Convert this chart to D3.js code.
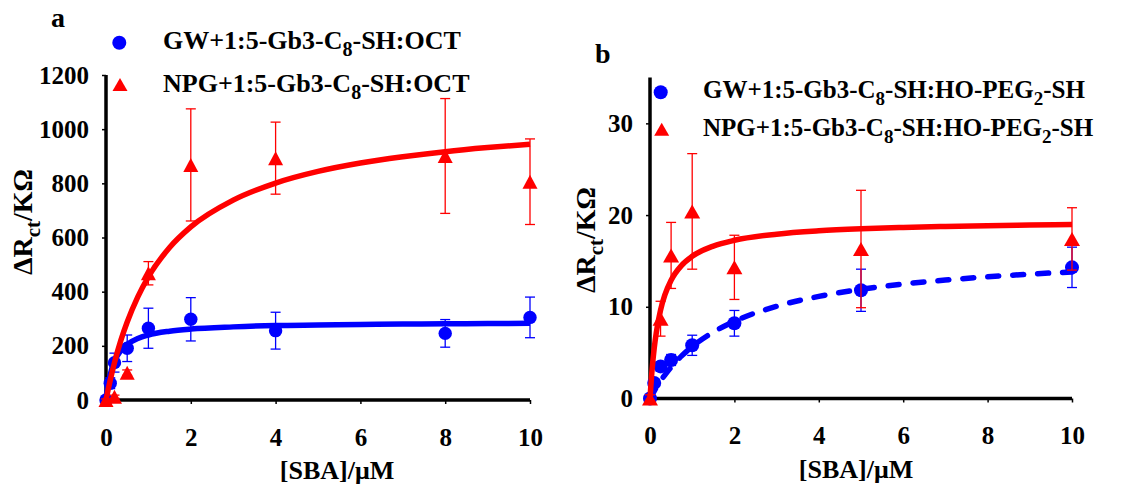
<!DOCTYPE html>
<html>
<head>
<meta charset="utf-8">
<script src="https://cdn.jsdelivr.net/npm/d3@7"></script>
<style>
  html, body { margin: 0; padding: 0; background: #fff; }
  svg text { font-family: "Liberation Serif", "Times New Roman", serif; font-weight: bold; fill: #000; }
</style>
</head>
<body>
<svg id="chart" width="1121" height="484"></svg>
<script>
// ---------- Panel a: OCT diluent ----------
const xTicks = [0, 2, 4, 6, 8, 10];
const yTicksA = [0, 200, 400, 600, 800, 1000, 1200];
const concGwA = [0, 0.1, 0.2, 0.5, 1, 2, 4, 8, 10];
const gwA = [0, 62, 138, 191, 265, 298, 256, 246, 305];
const gwAErr = [6, 20, 35, 49, 74, 80, 68, 51, 75];
const concNpgA = [0, 0.2, 0.5, 1, 2, 4, 8, 10];
const npgA = [0, 12, 101, 468, 868, 893, 901, 806];
const npgAErr = [4, 6, 10, 43, 207, 133, 212, 158];
// fitted binding curves (panel a)
const fitConcA = [0, 0.05, 0.1, 0.2, 0.35, 0.5, 0.75, 1, 1.5, 2, 3, 4, 5, 6, 7, 8, 9, 10];
const gwAFit = [0, 57, 95, 143, 183, 205, 227, 240, 254, 262, 270, 275, 277, 279, 280.5, 281.5, 282.3, 283];
const npgAFit = [0, 38, 73.5, 138, 220, 288, 381, 455, 563, 639, 738, 801, 844, 875, 898, 917, 932, 944.5];

// ---------- Panel b: HO-PEG2-SH diluent ----------
const yTicksB = [0, 10, 20, 30];
const concGwB = [0, 0.1, 0.25, 0.5, 1, 2, 5, 10];
const gwB = [0, 1.7, 3.5, 4.2, 5.8, 8.2, 11.8, 14.3];
const gwBErr = [0.3, 0.4, 0.5, 0.6, 1.1, 1.4, 2.3, 2.2];
const concNpgB = [0, 0.25, 0.5, 1, 2, 5, 10];
const npgB = [0, 8.7, 15.6, 20.4, 14.3, 16.3, 17.4];
const npgBErr = [0.4, 1.9, 3.6, 6.3, 3.5, 6.4, 3.4];
// fitted binding curves (panel b)
const fitConcB = [0, 0.05, 0.1, 0.15, 0.25, 0.35, 0.5, 0.75, 1, 1.5, 2, 3, 4, 5, 6, 7, 8, 9, 10];
const gwBFit = [0, 0.42, 0.82, 1.2, 1.91, 2.55, 3.42, 4.65, 5.66, 7.24, 8.42, 10.05, 11.13, 11.9, 12.47, 12.91, 13.27, 13.56, 13.8];
const npgBFit = [0, 3.2, 5.49, 7.22, 9.64, 11.26, 12.89, 14.52, 15.5, 16.62, 17.25, 17.92, 18.28, 18.5, 18.65, 18.76, 18.84, 18.91, 18.96];

// ---------- Text ----------
const legendA = ["GW+1:5-Gb3-C{8}-SH:OCT", "NPG+1:5-Gb3-C{8}-SH:OCT"];
const legendB = ["GW+1:5-Gb3-C{8}-SH:HO-PEG{2}-SH", "NPG+1:5-Gb3-C{8}-SH:HO-PEG{2}-SH"];
const xTitle = "[SBA]/\u03bcM";
const yTitle = "\u0394R{ct}/K\u03a9";

const BLUE = "#0000ff", RED = "#ff0000";
const svg = d3.select("#chart");

// writes a label where {..} segments are subscripts
function richText(textSel, str, subSize, shift) {
  const parts = str.split(/(\{[^}]*\})/).filter(s => s.length);
  let lowered = false;
  parts.forEach(p => {
    if (p.startsWith("{")) {
      textSel.append("tspan").attr("font-size", subSize).attr("dy", shift).text(p.slice(1, -1));
      lowered = true;
    } else {
      const t = textSel.append("tspan").text(p);
      if (lowered) { t.attr("dy", -shift); lowered = false; }
    }
  });
  return textSel;
}

const triPath = (w, h) => `M0,${-h / 2}L${w / 2},${h / 2}L${-w / 2},${h / 2}Z`;

function drawPanel(p) {
  const { x, y } = p;
  const g = svg.append("g");

  // axes
  const gx = g.append("g").attr("transform", `translate(0,${y(0)})`)
    .call(d3.axisBottom(x).tickValues(xTicks).tickFormat(d3.format("d"))
      .tickSize(4).tickSizeOuter(0).tickPadding(p.xPad));
  const gy = g.append("g").attr("transform", `translate(${x(0)},0)`)
    .call(d3.axisLeft(y).tickValues(p.yTicks).tickFormat(d3.format("d"))
      .tickSize(4).tickSizeOuter(0).tickPadding(13));
  [gx, gy].forEach(a => {
    a.attr("font-size", 25);
    a.select(".domain").attr("stroke", "#000").attr("stroke-width", 3.5);
    a.selectAll(".tick line").attr("stroke", "#000").attr("stroke-width", 1.5);
  });
  gx.select(".domain").attr("d", `M${x(0) - 1.5},0H${x(10)}`);
  gy.select(".domain").attr("d", `M0,${y(0) + 1.5}V${y.range()[1]}`);

  // axis titles
  g.append("text").attr("x", p.xTitlePos[0]).attr("y", p.xTitlePos[1])
    .attr("text-anchor", "middle").attr("font-size", 26).text(xTitle);
  richText(g.append("text")
    .attr("transform", `translate(${p.yTitlePos[0]},${p.yTitlePos[1]}) rotate(-90)`)
    .attr("text-anchor", "middle").attr("font-size", 28), yTitle, 21, 8);

  // panel letter
  g.append("text").attr("x", p.letterPos[0]).attr("y", p.letterPos[1])
    .attr("font-size", 28).text(p.letter);

  const line = d3.line().x(d => x(d[0])).y(d => y(d[1])).curve(d3.curveMonotoneX);

  p.series.forEach(s => {
    const pts = s.conc.map((c, i) => [c, s.vals[i], s.err[i]]);
    // error bars
    const eb = g.append("g").attr("stroke", s.color).attr("stroke-width", 1.3);
    pts.forEach(([c, v, e]) => {
      const cx = x(c), y1 = y(Math.max(0, v - e)), y2 = y(v + e);
      eb.append("line").attr("x1", cx).attr("x2", cx).attr("y1", y1).attr("y2", y2);
      eb.append("line").attr("x1", cx - 5).attr("x2", cx + 5).attr("y1", y2).attr("y2", y2);
      if (v - e > 0) eb.append("line").attr("x1", cx - 5).attr("x2", cx + 5).attr("y1", y1).attr("y2", y1);
    });
    // fitted curve
    g.append("path").datum(s.fitX.map((c, i) => [c, s.fit[i]]))
      .attr("d", line).attr("fill", "none").attr("stroke", s.color)
      .attr("stroke-width", 5.5).attr("stroke-linecap", s.dash ? "round" : "butt")
      .attr("stroke-dasharray", s.dash || null);
    // markers
    pts.forEach(([c, v]) => {
      if (s.shape === "circle") {
        g.append("circle").attr("cx", x(c)).attr("cy", y(v)).attr("r", p.mr).attr("fill", s.color);
      } else {
        g.append("path").attr("d", triPath(p.tw, p.th))
          .attr("transform", `translate(${x(c)},${y(v)})`).attr("fill", s.color);
      }
    });
  });

  // legend
  p.legend.forEach((txt, i) => {
    const [mx, my] = p.legendMarks[i];
    if (i === 0) g.append("circle").attr("cx", mx).attr("cy", my).attr("r", 7).attr("fill", BLUE);
    else g.append("path").attr("d", triPath(15, 13)).attr("transform", `translate(${mx},${my})`).attr("fill", RED);
    richText(g.append("text").attr("x", p.legendX).attr("y", p.legendY[i]).attr("font-size", p.legendSize),
      txt, p.legendSub, 7);
  });
}

drawPanel({
  x: d3.scaleLinear([0, 10], [106, 530]),
  y: d3.scaleLinear([0, 1200], [400, 75]),
  yTicks: yTicksA, xPad: 24,
  xTitlePos: [337, 479], yTitlePos: [32, 222], letter: "a", letterPos: [51, 27],
  mr: 6.7, tw: 15, th: 14,
  legend: legendA, legendMarks: [[119.3, 42.7], [120, 84.5]], legendX: 163, legendY: [49.3, 91.7],
  legendSize: 26, legendSub: 20,
  series: [
    { conc: concGwA, vals: gwA, err: gwAErr, fitX: fitConcA, fit: gwAFit, color: BLUE, shape: "circle" },
    { conc: concNpgA, vals: npgA, err: npgAErr, fitX: fitConcA, fit: npgAFit, color: RED, shape: "tri" }
  ]
});

drawPanel({
  x: d3.scaleLinear([0, 10], [650, 1072]),
  y: d3.scaleLinear([0, 35], [398.5, 77.5]),
  yTicks: yTicksB, xPad: 24,
  xTitlePos: [856, 478], yTitlePos: [595, 240], letter: "b", letterPos: [595, 63],
  mr: 7, tw: 16, th: 14,
  legend: legendB, legendMarks: [[660.7, 92.3], [661.7, 129.3]], legendX: 703, legendY: [98.3, 136],
  legendSize: 25, legendSub: 19,
  series: [
    { conc: concGwB, vals: gwB, err: gwBErr, fitX: fitConcB, fit: gwBFit, color: BLUE, shape: "circle", dash: "11,14" },
    { conc: concNpgB, vals: npgB, err: npgBErr, fitX: fitConcB, fit: npgBFit, color: RED, shape: "tri" }
  ]
});
</script>
</body>
</html>
